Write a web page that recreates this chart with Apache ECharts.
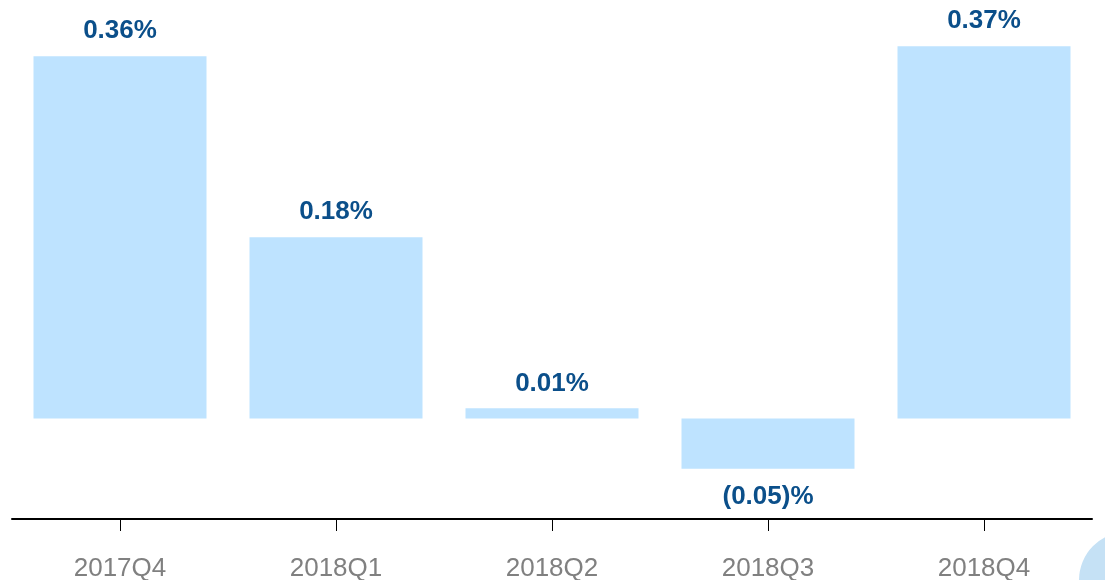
<!DOCTYPE html>
<html>
<head>
<meta charset="utf-8">
<script src="https://cdn.jsdelivr.net/npm/echarts@6/dist/echarts.min.js"></script>
<style>
  html, body { margin: 0; padding: 0; background: #fff; }
  #chart { width: 1105px; height: 580px; }
</style>
</head>
<body>
<div id="chart"></div>
<script>
const quarters = ['2017Q4', '2018Q1', '2018Q2', '2018Q3', '2018Q4'];
const changes = [0.36, 0.18, 0.01, -0.05, 0.37];

const chart = echarts.init(document.getElementById('chart'));

function fmt(v) {
  const s = Math.abs(v).toFixed(2);
  return v < 0 ? '(' + s + ')%' : s + '%';
}

const option = {
  animation: false,
  grid: {
    left: 12,
    right: 13,
    top: 16,
    bottom: 61,
    outerBoundsMode: 'none'
  },
  xAxis: {
    type: 'category',
    data: quarters,
    position: 'bottom',
    axisLine: {
      onZero: false,
      lineStyle: { color: '#000', width: 2 }
    },
    axisTick: {
      show: true,
      alignWithLabel: true,
      length: 12,
      lineStyle: { color: '#000', width: 1 }
    },
    axisLabel: {
      color: '#808080',
      fontSize: 26,
      fontFamily: 'Liberation Sans, Arial, sans-serif',
      margin: 37
    }
  },
  yAxis: {
    type: 'value',
    min: -0.1,
    max: 0.4,
    show: false,
    splitLine: { show: false }
  },
  series: [
    {
      type: 'bar',
      data: changes.map(v => ({
        value: v,
        label: { position: v < 0 ? 'bottom' : 'top', distance: v < 0 ? 15 : 12 }
      })),
      barWidth: 173,
      itemStyle: { color: '#bee3ff' },
      label: {
        show: true,
        color: '#0b4f8a',
        fontSize: 26,
        fontWeight: 'bold',
        fontFamily: 'Liberation Sans, Arial, sans-serif',
        formatter: p => fmt(p.value)
      }
    }
  ],
  graphic: [
    {
      type: 'circle',
      shape: { cx: 1127, cy: 580, r: 48 },
      style: { fill: '#c5e1f5' },
      silent: true
    }
  ]
};

chart.setOption(option);
</script>
</body>
</html>
